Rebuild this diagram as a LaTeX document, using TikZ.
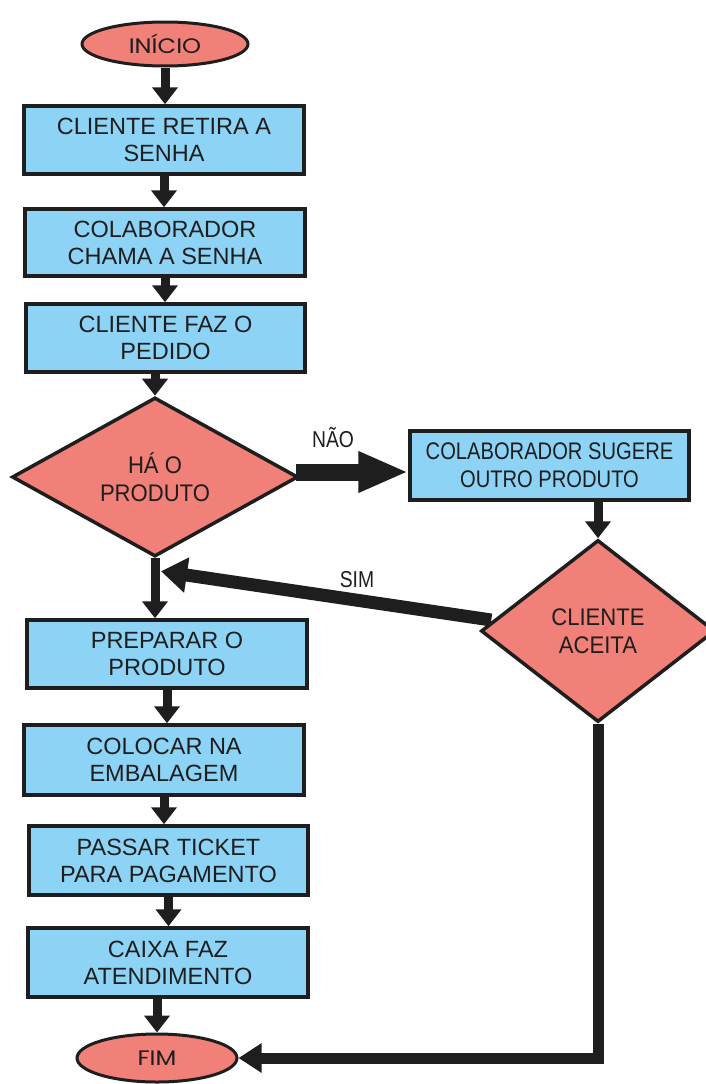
\documentclass[tikz,border=0pt]{standalone}
\usepackage{fontspec}
\setmainfont{Liberation Sans}
\newfontfamily\narrowf{Liberation Sans}[FakeStretch=0.84]
\newfontfamily\dfont{Liberation Sans}[FakeStretch=0.92]
\newfontfamily\geo{Poppins}[FakeStretch=1.15]
\usetikzlibrary{shapes.geometric,arrows.meta,calc}
\pgfdeclarelayer{paper}
\pgfdeclarelayer{bg}
\pgfsetlayers{paper,bg,main}
\definecolor{boxblue}{HTML}{8DD3F5}
\definecolor{coral}{HTML}{F08078}
\definecolor{ink}{HTML}{1E1E1E}
\begin{document}
\begin{tikzpicture}[x=1pt,y=-1pt,
  proc/.style={rectangle,draw=ink,line width=3.5pt,fill=boxblue,inner sep=0pt,align=center,text=ink,
    font=\fontsize{23.5}{27}\selectfont,minimum width=280pt,minimum height=68pt},
  dec/.style={diamond,draw=ink,line width=3.5pt,fill=coral,inner sep=0pt,align=center,text=ink,
    font=\dfont\fontsize{24}{28}\selectfont},
  term/.style={ellipse,draw=ink,line width=3pt,fill=coral,inner sep=0pt,text=ink,
    font=\geo\fontsize{21}{24}\selectfont},
  lbl/.style={text=ink,inner sep=0pt,font=\narrowf\fontsize{23}{26}\selectfont},
  flow/.style={draw=ink,line width=9pt,-{Triangle[length=17pt,width=25pt]}},
  naoarrow/.style={draw=ink,line width=17pt,-{Triangle[length=50pt,width=38pt]}},
  simarrow/.style={draw=ink,line width=13pt,-{Triangle[length=26pt,width=34pt]}},
  backarrow/.style={draw=ink,line width=11pt,-{Triangle[length=23pt,width=28pt]}}
]
\useasboundingbox (0,0) rectangle (706,1084);
\begin{pgfonlayer}{paper}
\fill[white] (0,0) rectangle (706,1084);
\end{pgfonlayer}

\node[term,minimum width=166pt,minimum height=44pt] (start) at (165,44) {INÍCIO};
\node[proc] (b1) at (164,140) {CLIENTE RETIRA A\\SENHA};
\node[proc,minimum height=67pt] (b2) at (165,242.5) {COLABORADOR\\CHAMA A SENHA};
\node[proc,minimum width=279pt] (b3) at (165.5,338) {CLIENTE FAZ O\\PEDIDO};
\node[dec,minimum width=286pt,minimum height=157pt] (d1) at (155,477) {HÁ O\\PRODUTO};
\node[proc,minimum width=279pt,minimum height=69pt,font=\narrowf\fontsize{24}{28}\selectfont] (nb) at (549.5,465.5) {COLABORADOR SUGERE\\OUTRO PRODUTO};
\node[dec,minimum width=234pt,minimum height=182pt] (d2) at (598,631) {CLIENTE\\ACEITA};
\node[proc] (b4) at (167,654) {PREPARAR O\\PRODUTO};
\node[proc,minimum height=70pt] (b5) at (164,760) {COLOCAR NA\\EMBALAGEM};
\node[proc,minimum width=279pt,minimum height=69pt] (b6) at (168.5,860.5) {PASSAR TICKET\\PARA PAGAMENTO};
\node[proc,minimum height=69pt] (b7) at (168,962.5) {CAIXA FAZ\\ATENDIMENTO};
\node[term,minimum width=160pt,minimum height=48pt] (fim) at (157,1058) {FIM};

\node[lbl] (lnao) at (333,438) {NÃO};
\node[lbl] (lsim) at (357,580) {SIM};

\coordinate (j) at ($(d1.south)+(6,13)$);
\coordinate (s2) at ($(d2.west)+(12,-11)$);

\begin{pgfonlayer}{bg}
\draw[flow] (start.south) -- (start.south |- b1.north);
\draw[flow] (b1.south) -- (b1.south |- b2.north);
\draw[flow] (b2.south) -- (b2.south |- b3.north);
\draw[flow] (d1.north |- b3.south) -- (d1.north);
\draw[naoarrow] ($(d1.east)+(-4,-5)$) -- ($(nb.west)+(0,6.5)$);
\draw[flow] (d2.north |- nb.south) -- (d2.north);
\draw[simarrow] (s2) -- (j);
\draw[flow] (d1.south) -- (d1.south |- b4.north);
\draw[flow] (b4.south) -- (b4.south |- b5.north);
\draw[flow] (b5.south) -- (b5.south |- b6.north);
\draw[flow] (b6.south) -- (b6.south |- b7.north);
\draw[flow] (fim.north |- b7.south) -- (fim.north);
\draw[backarrow] (d2.south) -- (d2.south |- fim.east) -- (fim.east);
\end{pgfonlayer}
\end{tikzpicture}
\end{document}
